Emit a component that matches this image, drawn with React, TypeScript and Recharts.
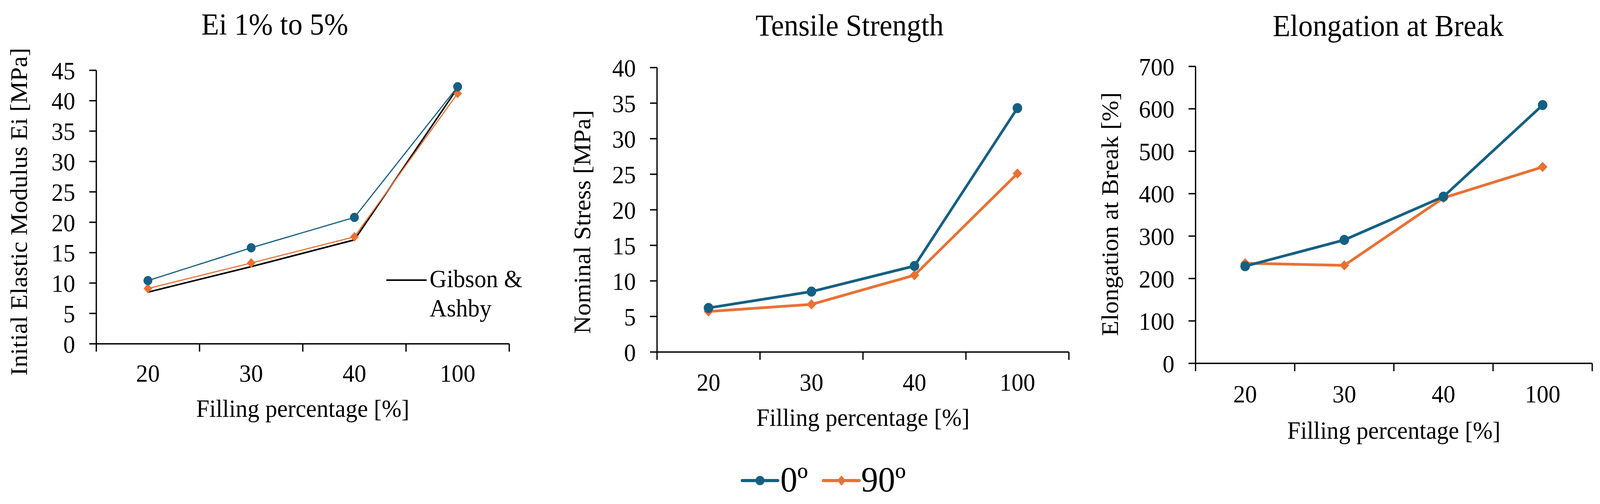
import React from 'react';
import { LineChart, Line, XAxis, YAxis } from 'recharts';

const FONT = '"Liberation Serif", "Times New Roman", Times, serif';
const BLUE = '#156082';
const ORANGE = '#E97132';
const BLACK = '#000000';

const PAGE_W = 4320;
const PAGE_H = 1290;

// ---- data ----
const categories = ['20', '30', '40', '100'];
const seriesNames = ['0º', '90º'];
const gibsonLines = ['Gibson &', 'Ashby'];

const titles = ['Ei 1% to 5%', 'Tensile Strength', 'Elongation at Break'];
const yTitles = ['Initial Elastic Modulus Ei [MPa]', 'Nominal Stress [MPa]', 'Elongation at Break [%]'];
const xTitle = 'Filling percentage [%]';

const eiTicks = [0, 5, 10, 15, 20, 25, 30, 35, 40, 45];
const ei0 = [10.4, 15.8, 20.8, 42.3];
const ei90 = [9.1, 13.3, 17.6, 41.2];
const eiGibson = [8.5, 12.7, 17.1, 42.1];

const tsTicks = [0, 5, 10, 15, 20, 25, 30, 35, 40];
const ts0 = [6.2, 8.5, 12.1, 34.3];
const ts90 = [5.7, 6.7, 10.8, 25.1];

const ebTicks = [0, 100, 200, 300, 400, 500, 600, 700];
const eb0 = [229, 291, 393, 609];
const eb90 = [236, 231, 390, 463];

// band boundaries (integers) and band centres (halves)
const xTicks: number[] = categories.flatMap((_, i) => [i, i + 0.5]).concat([categories.length]);

const buildRows = (cols: Record<string, number[]>) =>
  categories.map((c, i) => {
    const r: any = { x: i + 0.5, cat: c };
    Object.keys(cols).forEach((k) => {
      r[k] = cols[k][i];
    });
    return r;
  });

const circleDot = (color: string, r: number) => (p: any) =>
  p.cx == null ? <g key={p.index} /> : (
    <circle key={`c${p.index}`} cx={p.cx} cy={p.cy} r={r} fill={color} stroke={color} strokeWidth={1} />
  );

const diamondDot = (color: string, hw: number, hh: number) => (p: any) =>
  p.cx == null ? <g key={p.index} /> : (
    <polygon
      key={`d${p.index}`}
      points={`${p.cx},${p.cy - hh} ${p.cx + hw},${p.cy} ${p.cx},${p.cy + hh} ${p.cx - hw},${p.cy}`}
      fill={color}
      stroke={color}
      strokeWidth={1}
      strokeLinejoin="round"
    />
  );

type LineCfg = { key: string; color: string; width: number; dot: any };

type PanelProps = {
  left: number;
  width: number;
  height: number;
  margin: { top: number; right: number; bottom: number; left: number };
  yWidth: number;
  yTicks: number[];
  xAxisHeight: number;
  tickLabelDy: number;
  yTitle: string;
  yTitleX: number;
  yTitleDy: number;
  rows: any[];
  lines: LineCfg[];
};

function Panel(props: PanelProps) {
  const { left, width, height, margin, yWidth, yTicks, xAxisHeight, tickLabelDy, yTitle, yTitleX, yTitleDy, rows, lines } = props;
  const yMax = yTicks[yTicks.length - 1];

  const xTick = (p: any) => {
    const v = p.payload.value;
    if (Number.isInteger(v)) {
      return <line x1={p.x} y1={p.y} x2={p.x} y2={p.y + 20} stroke="#000" strokeWidth={3.5} />;
    }
    return (
      <text x={p.x} y={p.y + tickLabelDy} textAnchor="middle" fontSize={64} fontFamily={FONT} fill="#000">
        {categories[Math.floor(v)]}
      </text>
    );
  };

  const yLabel = (p: any) => {
    const vb = p.viewBox || {};
    const cx = (vb.x || 0) + yTitleX;
    const cy = (vb.y || 0) + (vb.height || 0) / 2 + yTitleDy;
    return (
      <text
        x={cx}
        y={cy}
        dy="0.33em"
        transform={`rotate(-90, ${cx}, ${cy})`}
        textAnchor="middle"
        fontSize={64}
        fontFamily={FONT}
        fill="#000"
      >
        {yTitle}
      </text>
    );
  };

  const xLabel = (p: any) => {
    const vb = p.viewBox || {};
    const cx = (vb.x || 0) + (vb.width || 0) / 2;
    const cy = (vb.y || 0) + (vb.height || 0);
    return (
      <text x={cx} y={cy} textAnchor="middle" fontSize={64} fontFamily={FONT} fill="#000">
        {xTitle}
      </text>
    );
  };

  return (
    <div style={{ position: 'absolute', left, top: 0, width, height }}>
      <LineChart width={width} height={height} data={rows} margin={margin}>
        <XAxis
          dataKey="x"
          type="number"
          domain={[0, categories.length]}
          ticks={xTicks}
          interval={0}
          allowDataOverflow
          tickLine={false}
          tickSize={0}
          tickMargin={0}
          axisLine={{ stroke: '#000', strokeWidth: 3.5 }}
          tick={xTick}
          height={xAxisHeight}
          label={{ content: xLabel }}
        />
        <YAxis
          type="number"
          domain={[0, yMax]}
          ticks={yTicks}
          interval={0}
          width={yWidth}
          tickSize={19}
          tickMargin={38}
          axisLine={{ stroke: '#000', strokeWidth: 3.5 }}
          tickLine={{ stroke: '#000', strokeWidth: 3.5 }}
          tick={{ fontSize: 64, fill: '#000', fontFamily: FONT }}
          label={{ content: yLabel }}
        />
        {lines.map((l) => (
          <Line
            key={l.key}
            dataKey={l.key}
            type="linear"
            stroke={l.color}
            strokeWidth={l.width}
            dot={l.dot}
            activeDot={false}
            isAnimationActive={false}
          />
        ))}
      </LineChart>
    </div>
  );
}

const eiRows = buildRows({ gibson: eiGibson, s90: ei90, s0: ei0 });
const tsRows = buildRows({ s90: ts90, s0: ts0 });
const ebRows = buildRows({ s90: eb90, s0: eb0 });

export default function App() {
  // the browser viewport may be narrower than the 4320px design; fit the figure to it
  const vw = typeof window !== 'undefined' ? window.innerWidth : PAGE_W;
  const vh = typeof window !== 'undefined' ? window.innerHeight : PAGE_H;
  const sx = Math.min(1, vw / PAGE_W);
  const sy = Math.min(1, vh / PAGE_H);
  return (
    <div
      style={{
        position: 'absolute',
        left: 0,
        top: 0,
        width: PAGE_W,
        height: PAGE_H,
        background: '#ffffff',
        overflow: 'hidden',
        fontFamily: FONT,
        transform: `scale(${sx}, ${sy})`,
        transformOrigin: '0 0',
      }}
    >
      <Panel
        left={0}
        width={1440}
        height={1150}
        margin={{ top: 180, right: 65, bottom: 83, left: 0 }}
        yWidth={260}
        yTicks={eiTicks}
        xAxisHeight={187}
        tickLabelDy={97}
        yTitle={yTitles[0]}
        yTitleX={52}
        yTitleDy={12}
        rows={eiRows}
        lines={[
          { key: 'gibson', color: BLACK, width: 4, dot: false },
          { key: 's90', color: ORANGE, width: 3, dot: diamondDot(ORANGE, 11, 12) },
          { key: 's0', color: BLUE, width: 3, dot: circleDot(BLUE, 11.5) },
        ]}
      />
      <Panel
        left={1440}
        width={1500}
        height={1150}
        margin={{ top: 173, right: 54, bottom: 60, left: 0 }}
        yWidth={334}
        yTicks={tsTicks}
        xAxisHeight={189}
        tickLabelDy={99}
        yTitle={yTitles[1]}
        yTitleX={133}
        yTitleDy={31}
        rows={tsRows}
        lines={[
          { key: 's90', color: ORANGE, width: 7, dot: diamondDot(ORANGE, 12.5, 12.5) },
          { key: 's0', color: BLUE, width: 7, dot: circleDot(BLUE, 12.5) },
        ]}
      />
      <Panel
        left={2880}
        width={1440}
        height={1150}
        margin={{ top: 170, right: 21, bottom: 27, left: 0 }}
        yWidth={348}
        yTicks={ebTicks}
        xAxisHeight={193}
        tickLabelDy={100}
        yTitle={yTitles[2]}
        yTitleX={117}
        yTitleDy={-2}
        rows={ebRows}
        lines={[
          { key: 's90', color: ORANGE, width: 7, dot: diamondDot(ORANGE, 12.5, 12.5) },
          { key: 's0', color: BLUE, width: 7, dot: circleDot(BLUE, 12.5) },
        ]}
      />

      {/* titles, Gibson & Ashby key, shared legend */}
      <svg
        width={PAGE_W}
        height={PAGE_H}
        style={{ position: 'absolute', left: 0, top: 0, pointerEvents: 'none' }}
      >
        <g fontFamily={FONT} fill="#000">
          <text x={742} y={88} fontSize={78} textAnchor="middle">{titles[0]}</text>
          <text x={2294} y={91} fontSize={78} textAnchor="middle">{titles[1]}</text>
          <text x={3748} y={92} fontSize={78} textAnchor="middle">{titles[2]}</text>
        </g>

        <line x1={1043} y1={717} x2={1152} y2={717} stroke={BLACK} strokeWidth={4} />
        <text x={1160} y={735} fontSize={64} fontFamily={FONT} fill="#000">{gibsonLines[0]}</text>
        <text x={1160} y={810} fontSize={64} fontFamily={FONT} fill="#000">{gibsonLines[1]}</text>

        <line x1={2004} y1={1230} x2={2100} y2={1230} stroke={BLUE} strokeWidth={8} strokeLinecap="round" />
        <circle cx={2052} cy={1230} r={12} fill={BLUE} />
        <text x={2107} y={1258} fontSize={92} fontFamily={FONT} fill="#000">{seriesNames[0]}</text>

        <line x1={2223} y1={1230} x2={2320} y2={1230} stroke={ORANGE} strokeWidth={8} strokeLinecap="round" />
        <polygon points="2272,1217 2283.5,1230 2272,1243 2260.5,1230" fill={ORANGE} />
        <text x={2325} y={1258} fontSize={92} fontFamily={FONT} fill="#000">{seriesNames[1]}</text>
      </svg>
    </div>
  );
}
